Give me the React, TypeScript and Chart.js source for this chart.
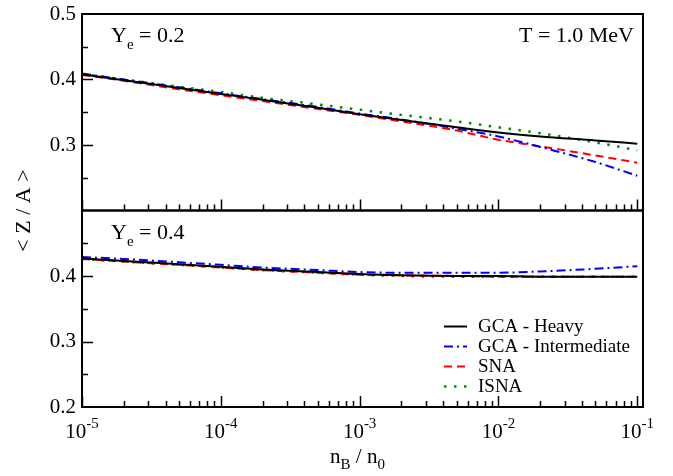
import React, { useEffect, useRef } from 'react';
import { Chart, registerables } from 'chart.js';

Chart.register(...registerables);

// ---------- data ----------
const X_VALUES = [1e-5, 2e-5, 5e-5, 1e-4, 2e-4, 5e-4, 1e-3, 2e-3, 5e-3, 1e-2, 2e-2, 5e-2, 1e-1];

const SERIES_LABELS = ['GCA - Heavy', 'GCA - Intermediate', 'SNA', 'ISNA'];

// Ye = 0.2 (top panel)
const TOP_HEAVY = [0.408, 0.399, 0.387, 0.378, 0.369, 0.357, 0.347, 0.338, 0.327, 0.319, 0.313, 0.307, 0.302];
const TOP_INTERMEDIATE = [0.409, 0.400, 0.388, 0.379, 0.370, 0.358, 0.348, 0.339, 0.325, 0.313, 0.297, 0.274, 0.253];
const TOP_SNA = [0.407, 0.398, 0.385, 0.376, 0.367, 0.355, 0.346, 0.336, 0.322, 0.308, 0.298, 0.284, 0.273];
const TOP_ISNA = [0.408, 0.400, 0.389, 0.381, 0.372, 0.362, 0.354, 0.346, 0.336, 0.327, 0.318, 0.304, 0.292];

// Ye = 0.4 (bottom panel)
const BOT_HEAVY = [0.427, 0.423, 0.418, 0.414, 0.410, 0.406, 0.403, 0.401, 0.400, 0.400, 0.399, 0.399, 0.399];
const BOT_INTERMEDIATE = [0.429, 0.426, 0.421, 0.417, 0.413, 0.409, 0.406, 0.405, 0.405, 0.405, 0.407, 0.411, 0.415];
const BOT_SNA = [0.426, 0.422, 0.417, 0.413, 0.409, 0.405, 0.402, 0.401, 0.400, 0.399, 0.399, 0.399, 0.399];
const BOT_ISNA = [0.426, 0.422, 0.417, 0.413, 0.409, 0.405, 0.402, 0.400, 0.399, 0.399, 0.399, 0.399, 0.399];

const X_MIN = 1e-5;
const X_MAX = 0.11;
const X_TICK_EXPONENTS = [-5, -4, -3, -2, -1];
const Y_MIN = 0.2;
const Y_MAX = 0.5;
const Y_MAJOR = [0.3, 0.4];
const Y_MINOR = [0.25, 0.35, 0.45];

const TOP_LABEL = { main: 'Y', sub: 'e', rest: ' = 0.2' };
const BOT_LABEL = { main: 'Y', sub: 'e', rest: ' = 0.4' };
const TEMP_LABEL = 'T = 1.0 MeV';
const Y_TITLE = '< Z / A >';

// ---------- styles ----------
const FONT = '"Liberation Serif", "Times New Roman", "DejaVu Serif", serif';
const STYLES = [
  { color: '#000000', dash: [] as number[], width: 2 },
  { color: '#0000ff', dash: [9, 4, 2, 4], width: 2 },
  { color: '#ff0000', dash: [8, 5], width: 2 },
  { color: '#008b00', dash: [2.5, 7.5], width: 2.5 },
];

type Part = { t: string; size: number; dy?: number };

function drawParts(ctx: CanvasRenderingContext2D, parts: Part[], x: number, y: number, align: 'left' | 'center' | 'right') {
  let w = 0;
  for (const p of parts) {
    ctx.font = `${p.size}px ${FONT}`;
    w += ctx.measureText(p.t).width;
  }
  let cx = align === 'center' ? x - w / 2 : align === 'right' ? x - w : x;
  ctx.textAlign = 'left';
  ctx.textBaseline = 'alphabetic';
  for (const p of parts) {
    ctx.font = `${p.size}px ${FONT}`;
    ctx.fillText(p.t, cx, y + (p.dy || 0));
    cx += ctx.measureText(p.t).width;
  }
}

const decorPlugin = {
  id: 'decor',
  afterDraw(chart: any) {
    const ctx: CanvasRenderingContext2D = chart.ctx;
    const xs = chart.scales.x;
    const yt = chart.scales.yTop;
    const yb = chart.scales.yBot;
    ctx.save();
    ctx.fillStyle = '#000';
    ctx.strokeStyle = '#000';

    for (const ys of [yt, yb]) {
      // frame
      ctx.lineWidth = 2;
      ctx.strokeRect(xs.left, ys.top, xs.right - xs.left, ys.bottom - ys.top);
      ctx.lineWidth = 1.5;
      ctx.beginPath();
      // y ticks (inward)
      for (const v of Y_MAJOR) {
        const py = Math.round(ys.getPixelForValue(v)) + 0.5;
        ctx.moveTo(xs.left, py);
        ctx.lineTo(xs.left + 11, py);
      }
      for (const v of Y_MINOR) {
        const py = Math.round(ys.getPixelForValue(v)) + 0.5;
        ctx.moveTo(xs.left, py);
        ctx.lineTo(xs.left + 6, py);
      }
      // x ticks (inward, from panel bottom)
      for (const e of X_TICK_EXPONENTS) {
        for (let k = 1; k <= 9; k++) {
          const v = k * Math.pow(10, e);
          if (v > X_MAX * 1.0001 || v < X_MIN * 0.9999) continue;
          const px = Math.round(xs.getPixelForValue(v)) + 0.5;
          const len = k === 1 ? 11 : 6;
          ctx.moveTo(px, ys.bottom);
          ctx.lineTo(px, ys.bottom - len);
        }
      }
      ctx.stroke();
    }

    // x tick labels
    for (const e of X_TICK_EXPONENTS) {
      const px = xs.getPixelForValue(Math.pow(10, e));
      drawParts(ctx, [{ t: '10', size: 21 }, { t: String(e), size: 15, dy: -10 }], px, yb.bottom + 31, 'center');
    }

    // x title
    drawParts(
      ctx,
      [
        { t: 'n', size: 21 },
        { t: 'B', size: 15, dy: 6 },
        { t: ' / n', size: 21 },
        { t: '0', size: 15, dy: 6 },
      ],
      (xs.left + xs.right) / 2 - 5,
      yb.bottom + 56,
      'center'
    );

    // y title
    ctx.save();
    ctx.translate(24, yt.bottom);
    ctx.rotate(-Math.PI / 2);
    ctx.font = `22px ${FONT}`;
    ctx.textAlign = 'center';
    ctx.textBaseline = 'middle';
    ctx.fillText(Y_TITLE, 0, 0);
    ctx.restore();

    // panel labels
    drawParts(
      ctx,
      [
        { t: TOP_LABEL.main, size: 22 },
        { t: TOP_LABEL.sub, size: 15, dy: 7 },
        { t: TOP_LABEL.rest, size: 22 },
      ],
      xs.left + 29,
      yt.top + 28,
      'left'
    );
    drawParts(ctx, [{ t: TEMP_LABEL, size: 22 }], xs.right - 9, yt.top + 28, 'right');
    drawParts(
      ctx,
      [
        { t: BOT_LABEL.main, size: 22 },
        { t: BOT_LABEL.sub, size: 15, dy: 7 },
        { t: BOT_LABEL.rest, size: 22 },
      ],
      xs.left + 29,
      yb.top + 28,
      'left'
    );

    // legend (bottom-panel datasets)
    const ds = chart.data.datasets.slice(4);
    const lx0 = xs.left + 362;
    const lx1 = lx0 + 23;
    const ly0 = yb.top + 116;
    const step = 20;
    ds.forEach((d: any, i: number) => {
      const y = ly0 + i * step;
      ctx.save();
      ctx.strokeStyle = d.borderColor;
      ctx.lineWidth = d.borderWidth;
      ctx.setLineDash(d.borderDash || []);
      ctx.beginPath();
      ctx.moveTo(lx0, y);
      ctx.lineTo(lx1, y);
      ctx.stroke();
      ctx.restore();
      ctx.font = `19px ${FONT}`;
      ctx.textAlign = 'left';
      ctx.textBaseline = 'middle';
      ctx.fillStyle = '#000';
      ctx.fillText(d.label, lx1 + 11, y + 1);
    });

    ctx.restore();
  },
};

function makeDataset(label: string, values: number[], style: typeof STYLES[number], axis: string) {
  return {
    label,
    data: X_VALUES.map((x, i) => ({ x, y: values[i] })),
    yAxisID: axis,
    borderColor: style.color,
    backgroundColor: style.color,
    borderWidth: style.width,
    borderDash: style.dash,
    pointRadius: 0,
    fill: false,
    cubicInterpolationMode: 'monotone' as const,
  };
}

export default function App() {
  const ref = useRef<HTMLCanvasElement | null>(null);

  useEffect(() => {
    if (!ref.current) return;
    const topSeries = [TOP_HEAVY, TOP_INTERMEDIATE, TOP_SNA, TOP_ISNA];
    const botSeries = [BOT_HEAVY, BOT_INTERMEDIATE, BOT_SNA, BOT_ISNA];
    const datasets = [
      ...topSeries.map((s, i) => makeDataset(SERIES_LABELS[i], s, STYLES[i], 'yTop')),
      ...botSeries.map((s, i) => makeDataset(SERIES_LABELS[i], s, STYLES[i], 'yBot')),
    ];
    const yScale = (hide: number, weight: number) => ({
      type: 'linear' as const,
      position: 'left' as const,
      stack: 'panels',
      stackWeight: 1,
      weight,
      min: Y_MIN,
      max: Y_MAX,
      grid: { display: false, drawTicks: false },
      border: { display: false },
      ticks: {
        stepSize: 0.1,
        padding: 6,
        color: '#000',
        font: { family: FONT, size: 21 },
        callback: (v: any) => (Math.abs(Number(v) - hide) < 1e-9 ? '' : Number(v).toFixed(1)),
      },
      afterFit: (scale: any) => {
        scale.width = 82;
        scale.paddingTop = 0;
        scale.paddingBottom = 0;
      },
    });
    const chart = new Chart(ref.current, {
      type: 'line',
      data: { datasets },
      options: {
        animation: false,
        responsive: false,
        devicePixelRatio: 1,
        layout: { padding: { left: 0, right: 30, top: 14, bottom: 0 } },
        plugins: { legend: { display: false }, tooltip: { enabled: false } },
        scales: {
          x: {
            type: 'logarithmic',
            min: X_MIN,
            max: X_MAX,
            grid: { display: false, drawTicks: false },
            border: { display: false },
            ticks: { display: false },
            afterFit: (scale: any) => {
              scale.height = 69;
              scale.paddingLeft = 0;
              scale.paddingRight = 0;
            },
          },
          yBot: yScale(Y_MAX, 0),
          yTop: yScale(Y_MIN, 1),
        } as any,
      },
      plugins: [decorPlugin],
    });
    return () => chart.destroy();
  }, []);

  return (
    <div style={{ position: 'absolute', left: 0, top: 0, width: 673, height: 476, background: '#fff' }}>
      <canvas ref={ref} width={673} height={476} style={{ width: 673, height: 476, display: 'block' }} />
    </div>
  );
}
